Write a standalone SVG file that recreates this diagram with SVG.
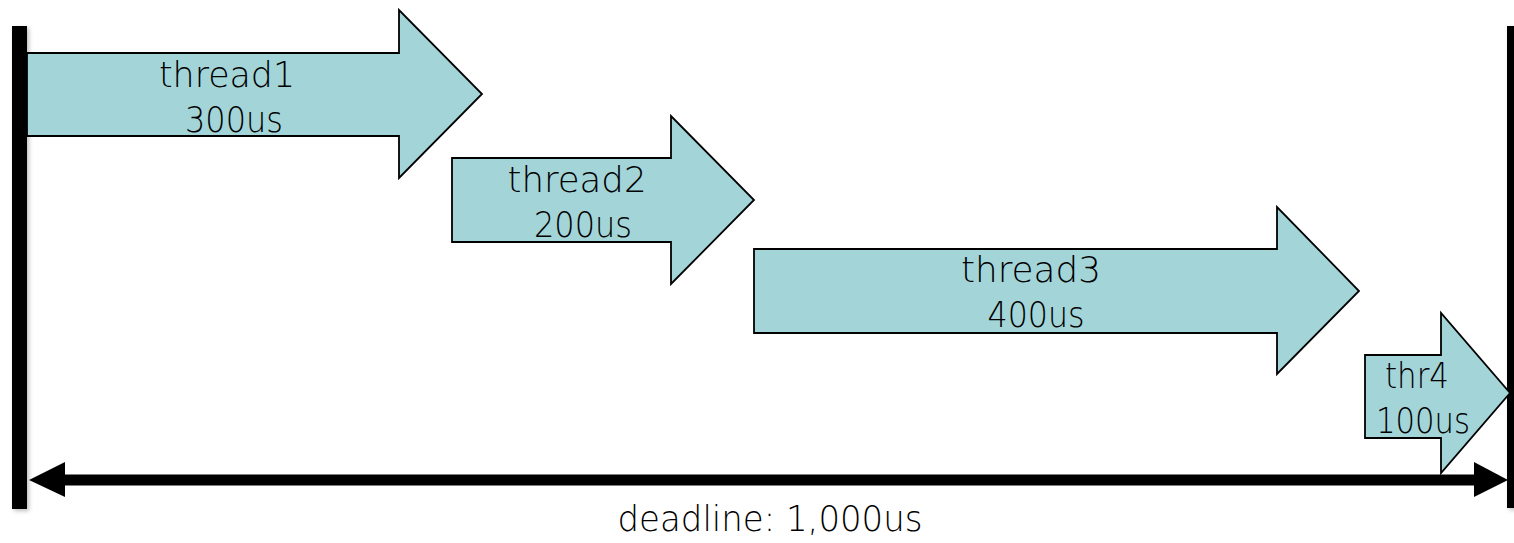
<svg xmlns="http://www.w3.org/2000/svg" width="1514" height="543" viewBox="0 0 1514 543">
  <style>
    .arrow { fill: #A2D4D8; stroke: #000; stroke-width: 1.8; stroke-linejoin: miter; }
    .lbl { font-family: "DejaVu Sans", "Liberation Sans", sans-serif; font-size: 35px; font-weight: 300; fill: #000; text-anchor: middle; }
    .bar { fill: #000; }
  </style>
  <defs>
    <filter id="sh" x="-50%" y="-5%" width="200%" height="110%">
      <feDropShadow dx="2" dy="2" stdDeviation="2" flood-color="#000" flood-opacity="0.25"/>
    </filter>
  </defs>
  <rect width="1514" height="543" fill="#fff"/>
  <g id="bars">
    <rect class="bar" x="12" y="26" width="15" height="483" filter="url(#sh)"/>
    <rect class="bar" x="1507" y="26" width="7" height="482" filter="url(#sh)"/>
  </g>
  <g id="thread1">
    <polygon class="arrow" points="27,53 399,53 399,10 482,94 399,178 399,136 27,136"/>
    <text class="lbl" x="227" y="87" textLength="136" lengthAdjust="spacingAndGlyphs">thread1</text>
    <text class="lbl" x="234" y="132" textLength="98" lengthAdjust="spacingAndGlyphs">300us</text>
  </g>
  <g id="thread2">
    <polygon class="arrow" points="452,158 671,158 671,116 754,200 671,284 671,242 452,242"/>
    <text class="lbl" x="577" y="192" textLength="139" lengthAdjust="spacingAndGlyphs">thread2</text>
    <text class="lbl" x="583" y="237" textLength="98" lengthAdjust="spacingAndGlyphs">200us</text>
  </g>
  <g id="thread3">
    <polygon class="arrow" points="754,249 1277,249 1277,207 1359,291 1277,374 1277,333 754,333"/>
    <text class="lbl" x="1031" y="282" textLength="140" lengthAdjust="spacingAndGlyphs">thread3</text>
    <text class="lbl" x="1036" y="327" textLength="97" lengthAdjust="spacingAndGlyphs">400us</text>
  </g>
  <g id="thr4">
    <polygon class="arrow" points="1365,355 1441,355 1441,313 1510,393 1441,473 1441,438 1365,438"/>
    <text class="lbl" x="1417" y="388" textLength="64" lengthAdjust="spacingAndGlyphs">thr4</text>
    <text class="lbl" x="1423" y="433" textLength="94" lengthAdjust="spacingAndGlyphs">100us</text>
  </g>
  <g id="connectors">
    <line x1="60" y1="480" x2="1480" y2="480" stroke="#000" stroke-width="11"/>
    <polygon points="29,480 65,462 65,497" fill="#000"/>
    <polygon points="1508,480 1474,462 1474,497" fill="#000"/>
  </g>
  <g id="deadline">
    <text class="lbl" x="770" y="531" textLength="305" lengthAdjust="spacingAndGlyphs">deadline: 1,000us</text>
  </g>
</svg>
